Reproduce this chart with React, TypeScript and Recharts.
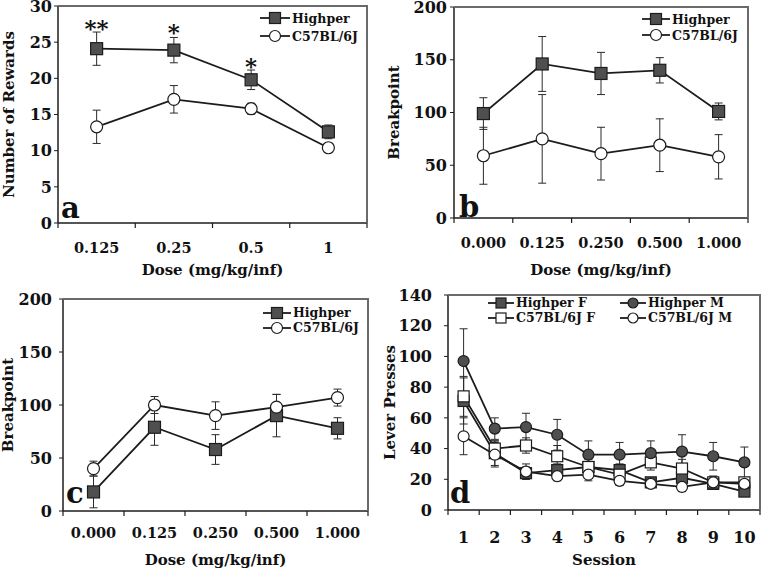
import { LineChart, Line, XAxis, YAxis, ErrorBar, LabelList, Legend } from 'recharts';

const FONT = '"DejaVu Serif", serif';
const INK = '#1c1c1c';
const FRAME = '#6a6a6a';

// panel a: rewards by dose
const dosesA = ['0.125', '0.25', '0.5', '1'];
const rewardsHighper = [24.1, 23.9, 19.8, 12.6];
const rewardsHighperSem = [2.3, 1.75, 1.35, 0.95];
const rewardsC57 = [13.3, 17.1, 15.8, 10.4];
const rewardsC57Sem = [2.3, 1.9, 0.75, 0.4];
const rewardsStarText = ['**', '*', '*', ''];
const rewardsStarY = [27.1, 26.6, 21.8, null];

// panel b: breakpoint
const dosesB = ['0.000', '0.125', '0.250', '0.500', '1.000'];
const bpHighperB = [99, 146, 137, 140, 101];
const bpHighperBSem = [15, 26, 20, 12, 8];
const bpC57B = [59, 75, 61, 69, 58];
const bpC57BSem = [27, 42, 25, 25, 21];

// panel c: breakpoint
const dosesC = ['0.000', '0.125', '0.250', '0.500', '1.000'];
const bpHighperC = [18, 79, 58, 90, 78];
const bpHighperCSem = [15, 17, 14, 20, 10];
const bpC57C = [40, 100, 90, 98, 107];
const bpC57CSem = [7, 8, 13, 12, 8];

// panel d: lever presses by session
const sessions = ['1', '2', '3', '4', '5', '6', '7', '8', '9', '10'];
const pressHighperF = [71, 37, 24, 26, 28, 26, 18, 21, 17, 12];
const pressHighperFSem = [15, 8, 4, 4, 3, 4, 3, 4, 3, 3];
const pressC57F = [74, 40, 42, 35, 28, 23, 31, 27, 18, 18];
const pressC57FSem = [13, 5, 5, 7, 5, 4, 5, 6, 4, 3];
const pressHighperM = [97, 53, 54, 49, 36, 36, 37, 38, 35, 31];
const pressHighperMSem = [21, 7, 9, 10, 9, 8, 8, 11, 9, 10];
const pressC57M = [48, 36, 25, 22, 23, 19, 17, 15, 18, 17];
const pressC57MSem = [12, 8, 5, 3, 4, 3, 2, 3, 4, 3];

type Series = {
  key: string;
  name: string;
  values: number[];
  sem: number[];
  shape: 'square' | 'circle';
  filled: boolean;
};

const titleStyle = { fontFamily: FONT, fontWeight: 'bold', fontSize: 15, fill: '#111' };

function Marker({ cx, cy, shape, filled, size }: any) {
  if (cx == null || cy == null) return null;
  const fill = filled ? '#4f4f4f' : '#ffffff';
  if (shape === 'square') {
    return <rect x={cx - size / 2} y={cy - size / 2} width={size} height={size} fill={fill} stroke={INK} strokeWidth={1.2} />;
  }
  return <circle cx={cx} cy={cy} r={size / 2} fill={fill} stroke={INK} strokeWidth={1.2} />;
}

function CategoryTick({ x, y, payload, categories, labelDy, fontSize }: any) {
  const v = payload.value;
  if (Number.isInteger(v)) {
    return <line x1={x} x2={x} y1={y} y2={y + 5} stroke={INK} strokeWidth={1.2} />;
  }
  return (
    <text x={x} y={y + labelDy} textAnchor="middle" fontFamily={FONT} fontWeight="bold" fontSize={fontSize} fill="#111">
      {categories[Math.floor(v)]}
    </text>
  );
}

function StarLabel({ x, y, value }: any) {
  if (!value || y == null) return null;
  return (
    <text x={x} y={y + 9} textAnchor="middle" fontFamily={FONT} fontWeight="bold" fontSize={23} fill="#111">
      {value}
    </text>
  );
}

function LegendBox({ series, columns, rowHeight, colWidth, lineWidth, size }: any) {
  return (
    <div style={{ display: 'grid', gridTemplateColumns: `repeat(${columns}, ${colWidth}px)`, fontFamily: FONT, fontWeight: 'bold', fontSize: 12.5, color: '#111' }}>
      {series.map((s: Series) => (
        <div key={s.key} style={{ display: 'flex', alignItems: 'center', height: rowHeight, whiteSpace: 'nowrap' }}>
          <svg width={lineWidth} height={14} style={{ marginRight: 2 }}>
            <line x1={0} x2={lineWidth} y1={7} y2={7} stroke={INK} strokeWidth={1.8} />
            <Marker cx={lineWidth / 2} cy={7} shape={s.shape} filled={s.filled} size={size} />
          </svg>
          <span>{s.name}</span>
        </div>
      ))}
    </div>
  );
}

type PanelProps = {
  left: number;
  top: number;
  width: number;
  height: number;
  marginTop: number;
  marginRight: number;
  yAxisWidth: number;
  xAxisHeight: number;
  categories: string[];
  yTicks: number[];
  yTitle: string;
  yTitleOffset: number;
  yTickMargin: number;
  xTitle: string;
  xTitleOffset: number;
  xLabelDy: number;
  xTickFont: number;
  series: Series[];
  legendSeries?: Series[];
  legend: { left: number; top: number; columns: number; rowHeight: number; colWidth: number; lineWidth: number };
  markerSize: number;
  stars?: { y: (number | null)[]; text: string[] };
};

function Panel(p: PanelProps) {
  const n = p.categories.length;
  const data = p.categories.map((c, i) => {
    const row: Record<string, any> = { x: i + 0.5, category: c };
    p.series.forEach((s) => {
      row[s.key] = s.values[i];
      row[s.key + 'Sem'] = s.sem[i];
    });
    if (p.stars) {
      row.starY = p.stars.y[i];
      row.starText = p.stars.text[i];
    }
    return row;
  });
  const xTicks: number[] = [];
  for (let i = 0; i <= 2 * n; i++) xTicks.push(i / 2);
  const yMax = p.yTicks[p.yTicks.length - 1];
  const yDomain = [p.yTicks[0], yMax];

  // plot box edges, for the grey frame on top and right
  const plotLeft = p.yAxisWidth;
  const plotRight = p.width - p.marginRight;
  const plotTop = p.marginTop;
  const plotBottom = p.height - p.xAxisHeight;

  return (
    <div style={{ position: 'absolute', left: p.left, top: p.top, width: p.width, height: p.height }}>
      <LineChart width={p.width} height={p.height} data={data} margin={{ top: p.marginTop, right: p.marginRight, bottom: 0, left: 0 }}>
        <XAxis
          dataKey="x"
          type="number"
          domain={[0, n]}
          ticks={xTicks}
          interval={0}
          tickSize={0}
          tickMargin={0}
          tickLine={false}
          height={p.xAxisHeight}
          axisLine={{ stroke: INK, strokeWidth: 1.5 }}
          tick={(t: any) => <CategoryTick {...t} categories={p.categories} labelDy={p.xLabelDy} fontSize={p.xTickFont} />}
          label={{ value: p.xTitle, position: 'insideBottom', offset: p.xTitleOffset, style: titleStyle }}
        />
        <YAxis
          type="number"
          domain={yDomain}
          ticks={p.yTicks}
          interval={0}
          width={p.yAxisWidth}
          tickSize={4}
          tickMargin={p.yTickMargin}
          tickLine={{ stroke: INK, strokeWidth: 1 }}
          axisLine={{ stroke: INK, strokeWidth: 1.5 }}
          tick={{ fontFamily: FONT, fontWeight: 'bold', fontSize: 16, fill: '#111' }}
          label={{ value: p.yTitle, angle: -90, position: 'insideLeft', offset: p.yTitleOffset, style: { ...titleStyle, textAnchor: 'middle' } }}
        />
        <Legend
          layout="vertical"
          align="center"
          verticalAlign="middle"
          wrapperStyle={{ left: p.legend.left, top: p.legend.top, width: 'auto' }}
          content={() => <LegendBox series={p.legendSeries ?? p.series} size={p.markerSize - 1} {...p.legend} />}
        />
        {p.series.map((s) => (
          <Line
            key={s.key}
            dataKey={s.key}
            name={s.name}
            stroke={INK}
            strokeWidth={1.8}
            isAnimationActive={false}
            activeDot={false}
            dot={(d: any) => <Marker key={`${s.key}-${d.index}`} cx={d.cx} cy={d.cy} shape={s.shape} filled={s.filled} size={p.markerSize} />}
          >
            <ErrorBar dataKey={s.key + 'Sem'} width={4} stroke="#2a2a2a" strokeWidth={1} direction="y" />
          </Line>
        ))}
        {p.stars && (
          <Line dataKey="starY" stroke="none" dot={false} activeDot={false} legendType="none" isAnimationActive={false}>
            <LabelList dataKey="starText" content={<StarLabel />} />
          </Line>
        )}
      </LineChart>
      {/* grey frame on the top and right of the plot */}
      <div
        style={{
          position: 'absolute',
          zIndex: 10,
          pointerEvents: 'none',
          left: plotLeft,
          top: plotTop - 1,
          width: plotRight - plotLeft + 1,
          height: plotBottom - plotTop + 1,
          borderTop: `2px solid ${FRAME}`,
          borderRight: `2px solid ${FRAME}`,
          boxSizing: 'border-box',
        }}
      />
    </div>
  );
}

const seriesA: Series[] = [
  { key: 'hp', name: 'Highper', values: rewardsHighper, sem: rewardsHighperSem, shape: 'square', filled: true },
  { key: 'c57', name: 'C57BL/6J', values: rewardsC57, sem: rewardsC57Sem, shape: 'circle', filled: false },
];
const seriesB: Series[] = [
  { key: 'hp', name: 'Highper', values: bpHighperB, sem: bpHighperBSem, shape: 'square', filled: true },
  { key: 'c57', name: 'C57BL/6J', values: bpC57B, sem: bpC57BSem, shape: 'circle', filled: false },
];
const seriesC: Series[] = [
  { key: 'hp', name: 'Highper', values: bpHighperC, sem: bpHighperCSem, shape: 'square', filled: true },
  { key: 'c57', name: 'C57BL/6J', values: bpC57C, sem: bpC57CSem, shape: 'circle', filled: false },
];
// legend order (row by row)
const seriesD: Series[] = [
  { key: 'hpF', name: 'Highper F', values: pressHighperF, sem: pressHighperFSem, shape: 'square', filled: true },
  { key: 'hpM', name: 'Highper M', values: pressHighperM, sem: pressHighperMSem, shape: 'circle', filled: true },
  { key: 'c57F', name: 'C57BL/6J F', values: pressC57F, sem: pressC57FSem, shape: 'square', filled: false },
  { key: 'c57M', name: 'C57BL/6J M', values: pressC57M, sem: pressC57MSem, shape: 'circle', filled: false },
];
// draw order for d
const drawOrderD = ['hpF', 'c57F', 'hpM', 'c57M'];

const letterStyle = { fontFamily: FONT, fontWeight: 'bold', fontSize: 29, fill: '#111' } as const;

export default function App() {
  const seriesDDraw = drawOrderD.map((k) => seriesD.find((s) => s.key === k)!);
  return (
    <div style={{ position: 'absolute', left: 0, top: 0, width: 761, height: 570, background: '#fff' }}>
      <Panel
        left={0} top={0} width={380} height={285} marginTop={6} marginRight={13}
        yAxisWidth={58} xAxisHeight={62} categories={dosesA} yTicks={[0, 5, 10, 15, 20, 25, 30]}
        yTitle="Number of Rewards" yTitleOffset={8.5} yTickMargin={2}
        xTitle="Dose (mg/kg/inf)" xTitleOffset={10} xLabelDy={30} xTickFont={14.5}
        series={seriesA} markerSize={12}
        legend={{ left: 260, top: 9, columns: 1, rowHeight: 18, colWidth: 110, lineWidth: 30 }}
        stars={{ y: rewardsStarY, text: rewardsStarText }}
      />
      <Panel
        left={380} top={0} width={381} height={285} marginTop={7} marginRight={13}
        yAxisWidth={74} xAxisHeight={67} categories={dosesB} yTicks={[0, 50, 100, 150, 200]}
        yTitle="Breakpoint" yTitleOffset={13.5} yTickMargin={3}
        xTitle="Dose (mg/kg/inf)" xTitleOffset={10} xLabelDy={30} xTickFont={14.5}
        series={seriesB} markerSize={12}
        legend={{ left: 262, top: 11, columns: 1, rowHeight: 16, colWidth: 110, lineWidth: 28 }}
      />
      <Panel
        left={0} top={285} width={380} height={285} marginTop={14} marginRight={12}
        yAxisWidth={63} xAxisHeight={59} categories={dosesC} yTicks={[0, 50, 100, 150, 200]}
        yTitle="Breakpoint" yTitleOffset={7.5} yTickMargin={7}
        xTitle="Dose (mg/kg/inf)" xTitleOffset={5} xLabelDy={27} xTickFont={14.5}
        series={seriesC} markerSize={12}
        legend={{ left: 263, top: 20, columns: 1, rowHeight: 15, colWidth: 110, lineWidth: 28 }}
      />
      <Panel
        left={380} top={285} width={381} height={285} marginTop={10} marginRight={1}
        yAxisWidth={68} xAxisHeight={60} categories={sessions} yTicks={[0, 20, 40, 60, 80, 100, 120, 140]}
        yTitle="Lever Presses" yTitleOffset={10} yTickMargin={12}
        xTitle="Session" xTitleOffset={5} xLabelDy={33} xTickFont={16}
        series={seriesDDraw} legendSeries={seriesD} markerSize={11}
        legend={{ left: 108, top: 10, columns: 2, rowHeight: 15, colWidth: 132, lineWidth: 26 }}
      />
      <svg width={761} height={570} style={{ position: 'absolute', left: 0, top: 0, pointerEvents: 'none' }}>
        <text x={61} y={218} {...letterStyle}>a</text>
        <text x={459} y={217} {...letterStyle}>b</text>
        <text x={66} y={503} {...letterStyle}>c</text>
        <text x={450} y={503} {...letterStyle}>d</text>
      </svg>
    </div>
  );
}
